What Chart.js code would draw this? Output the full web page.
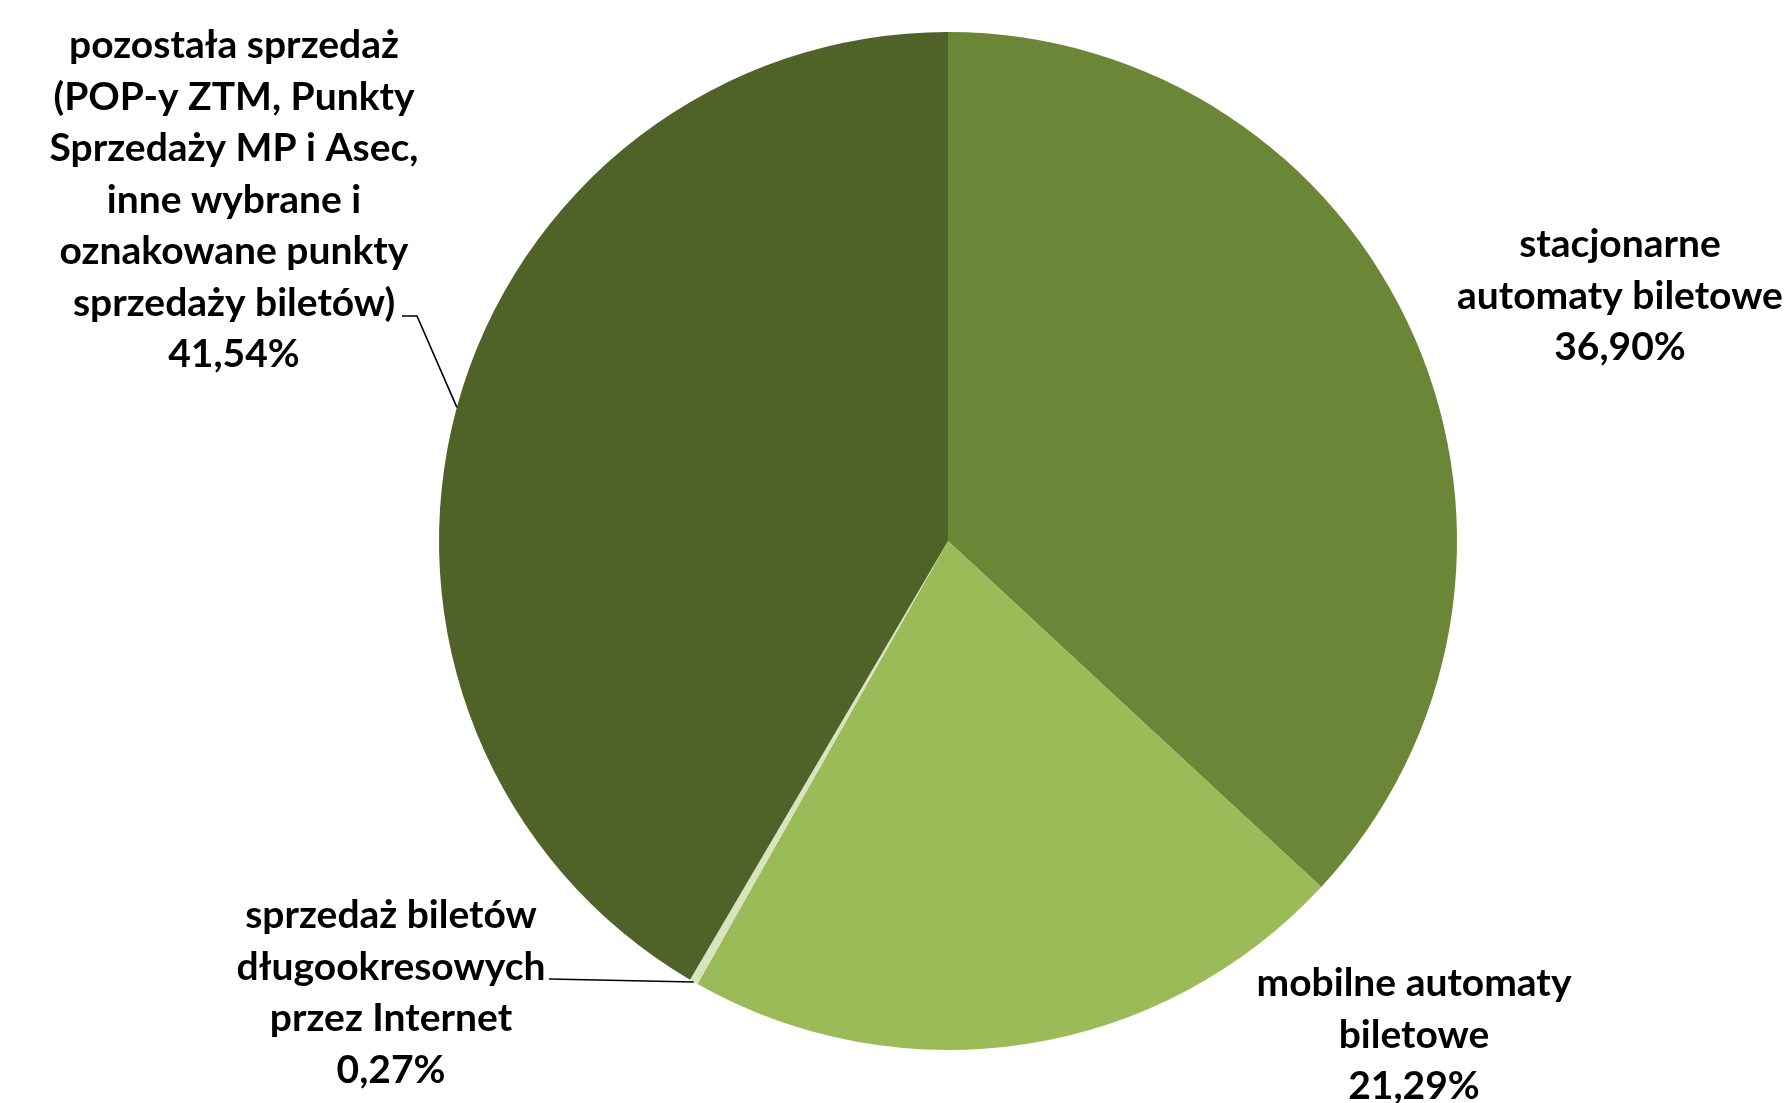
<!DOCTYPE html>
<html>
<head>
<meta charset="utf-8">
<script src="https://cdn.jsdelivr.net/npm/chart.js@4.4.0/dist/chart.umd.min.js"></script>
<style>
html,body{margin:0;padding:0;background:#fff;}
#wrap{width:1791px;height:1103px;}
</style>
</head>
<body>
<div id="wrap"><canvas id="c" width="1791" height="1103"></canvas></div>
<script>
const categories = [
  ["stacjonarne", "automaty biletowe"],
  ["mobilne automaty", "biletowe"],
  ["sprzedaż biletów", "długookresowych", "przez Internet"],
  ["pozostała sprzedaż", "(POP-y ZTM, Punkty", "Sprzedaży MP i Asec,", "inne wybrane i", "oznakowane punkty", "sprzedaży biletów)"]
];
const shares = [36.90, 21.29, 0.27, 41.54];
const colors = ["#6A8636", "#9BBB59", "#D7E4BD", "#4F6228"];

// label layout (offsets from pie centre in px), leader end points
const labelLayout = [
  {dx: 672, dy: -245, leader: null},
  {dx: 466, dy: 494, leader: null},
  {dx: -557, dy: 452, leader: [{dx: -399, dy: 438}]},
  {dx: -714, dy: -341, leader: [{dx: -546, dy: -225}, {dx: -531, dy: -225}]}
];

const fmt = v => v.toFixed(2).replace('.', ',') + '%';

const labelPlugin = {
  id: 'pieLabels',
  afterDatasetsDraw(chart) {
    const ctx = chart.ctx;
    const meta = chart.getDatasetMeta(0);
    ctx.save();
    ctx.fillStyle = '#000';
    ctx.strokeStyle = '#000';
    ctx.lineWidth = 1.6;
    ctx.font = 'bold 39px Lato';
    ctx.textAlign = 'center';
    ctx.textBaseline = 'middle';
    const lh = 51.5;
    meta.data.forEach((arc, i) => {
      const cx = arc.x, cy = arc.y;
      const lay = labelLayout[i];
      const lines = categories[i].concat([fmt(shares[i])]);
      const x = cx + lay.dx, yc = cy + lay.dy;
      const y0 = yc - (lines.length - 1) * lh / 2;
      lines.forEach((t, k) => ctx.fillText(t, x, y0 + k * lh));
      if (lay.leader) {
        const mid = (arc.startAngle + arc.endAngle) / 2;
        const ex = cx + arc.outerRadius * Math.cos(mid);
        const ey = cy + arc.outerRadius * Math.sin(mid);
        ctx.beginPath();
        ctx.moveTo(cx + lay.leader[0].dx, cy + lay.leader[0].dy);
        for (let k = 1; k < lay.leader.length; k++) ctx.lineTo(cx + lay.leader[k].dx, cy + lay.leader[k].dy);
        ctx.lineTo(ex, ey);
        ctx.stroke();
      }
    });
    ctx.restore();
  }
};

new Chart(document.getElementById('c'), {
  type: 'pie',
  data: {
    labels: categories.map(l => l.join(' ')),
    datasets: [{
      data: shares,
      backgroundColor: colors,
      borderWidth: 0
    }]
  },
  options: {
    responsive: false,
    animation: false,
    layout: {padding: {top: 32, bottom: 53, left: 400, right: 295}},
    plugins: {legend: {display: false}, tooltip: {enabled: false}}
  },
  plugins: [labelPlugin]
});
</script>
</body>
</html>
